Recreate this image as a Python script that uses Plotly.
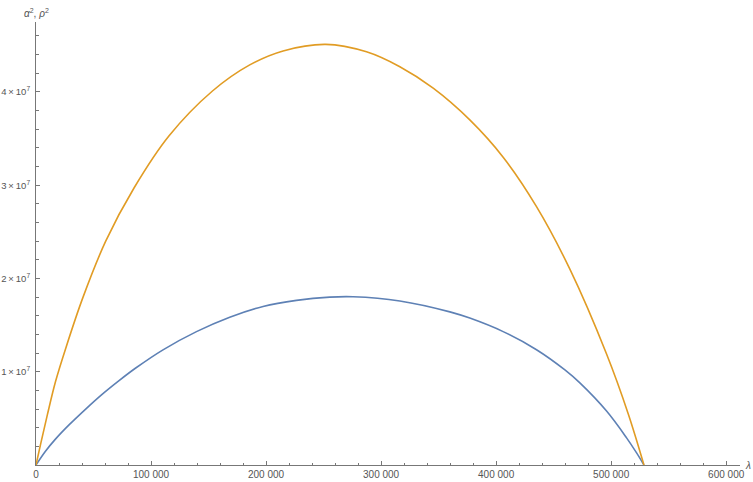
import plotly.graph_objects as go

# lambda values and the two curves
LAM_ORANGE = [0, 4100, 9900, 17100, 25800, 40900, 60600, 85200, 115700, 153400,
              185800, 214800, 251900, 287300, 316300, 345300, 377100, 406100,
              435100, 464100, 496000, 514800, 528500]
VAL_ORANGE = [0, 0.23e7, 0.54e7, 0.90e7, 1.25e7, 1.80e7, 2.40e7, 2.97e7, 3.53e7,
              4.01e7, 4.29e7, 4.44e7, 4.51e7, 4.43e7, 4.27e7, 4.04e7, 3.70e7,
              3.30e7, 2.77e7, 2.10e7, 1.19e7, 0.55e7, 0]

LAM_BLUE = [0, 8400, 17100, 28700, 43200, 57700, 72200, 86700, 110400, 139500,
            168400, 197400, 226400, 255400, 275700, 316300, 359800, 377100,
            406100, 435100, 459800, 472800, 496000, 513400, 522100, 528500]
VAL_BLUE = [0, 0.15e7, 0.28e7, 0.43e7, 0.60e7, 0.76e7, 0.905e7, 1.04e7, 1.235e7,
            1.43e7, 1.585e7, 1.70e7, 1.765e7, 1.80e7, 1.804e7, 1.759e7, 1.642e7,
            1.575e7, 1.430e7, 1.236e7, 1.019e7, 0.880e7, 0.578e7, 0.291e7,
            0.130e7, 0]

X_TICKS = [0, 100000, 200000, 300000, 400000, 500000, 600000]
X_LABELS = ["0", "100 000", "200 000", "300 000", "400 000", "500 000", "600 000"]
Y_TICKS = [1e7, 2e7, 3e7, 4e7]
Y_LABELS = ["1\u2009\u00d7\u200910<sup>7</sup>", "2\u2009\u00d7\u200910<sup>7</sup>",
            "3\u2009\u00d7\u200910<sup>7</sup>", "4\u2009\u00d7\u200910<sup>7</sup>"]

AXIS = "#777777"
TEXT = "#555555"
FONT = "Liberation Sans"

fig = go.Figure()
fig.add_trace(go.Scatter(x=LAM_BLUE, y=VAL_BLUE, mode="lines",
                         line=dict(color="#5E81B5", width=1.6, shape="spline", smoothing=1.0)))
fig.add_trace(go.Scatter(x=LAM_ORANGE, y=VAL_ORANGE, mode="lines",
                         line=dict(color="#E19C24", width=1.6, shape="spline", smoothing=1.0)))

fig.update_layout(
    width=753, height=482,
    paper_bgcolor="white", plot_bgcolor="white",
    margin=dict(l=36, r=13, t=22, b=17),
    showlegend=False,
    font=dict(family=FONT, size=10, color=TEXT),
    xaxis=dict(range=[0, 612000], showgrid=False, zeroline=False, automargin=False,
               showline=True, linecolor=AXIS, linewidth=1,
               ticks="inside", ticklen=4, tickcolor=AXIS,
               tickvals=X_TICKS, ticktext=X_LABELS,
               tickfont=dict(family=FONT, size=10, color=TEXT),
               minor=dict(ticks="inside", ticklen=2.5, tickcolor=AXIS,
                          tick0=0, dtick=20000, showgrid=False)),
    yaxis=dict(range=[0, 4.75e7], showgrid=False, zeroline=False, automargin=False,
               showline=True, linecolor=AXIS, linewidth=1,
               ticks="inside", ticklen=4, tickcolor=AXIS,
               tickvals=Y_TICKS, ticktext=Y_LABELS,
               tickfont=dict(family=FONT, size=9.5, color=TEXT),
               ticklabelstandoff=3,
               minor=dict(ticks="inside", ticklen=2.5, tickcolor=AXIS,
                          tick0=0, dtick=2e6, showgrid=False)),
    annotations=[
        dict(text="<i>\u03b1</i><sup>2</sup>, <i>\u03c1</i><sup>2</sup>",
             xref="paper", yref="paper", x=0, y=1, xanchor="center",
             yanchor="bottom", yshift=1, showarrow=False,
             font=dict(family=FONT, size=10, color=TEXT)),
        dict(text="<i>\u03bb</i>", xref="paper", yref="paper", x=1, y=0,
             xanchor="left", yanchor="middle", xshift=3, showarrow=False,
             font=dict(family=FONT, size=10, color=TEXT)),
    ],
)

# drop the page's default body margin so the figure sits at the window's corner
fig.write_html("out.html", config={"displayModeBar": False},
               post_script="document.body.style.margin='0';")
